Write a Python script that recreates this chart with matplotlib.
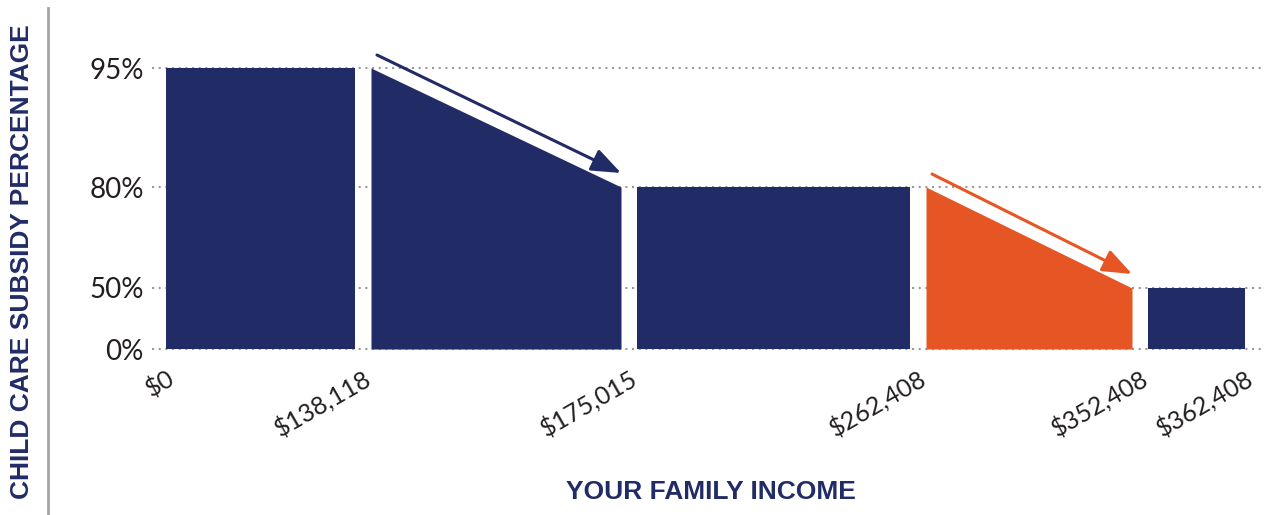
"""Child care subsidy by family income - stepped bar chart."""

import numpy as np
import matplotlib

matplotlib.use("Agg")
import matplotlib.pyplot as plt
from matplotlib.lines import Line2D
from matplotlib.transforms import ScaledTranslation

plt.rcParams["font.family"] = ["Lato", "DejaVu Sans"]

NAVY = "#212b65"
ORANGE = "#e65625"
GRID = "#9a9a9a"
TEXT = "#231f20"

# data
income_breaks = [0, 138118, 175015, 262408, 352408, 362408]
income_labels = ["$0", "$138,118", "$175,015", "$262,408", "$352,408", "$362,408"]
subsidy_start = [95, 95, 80, 80, 50]
subsidy_end = [95, 80, 80, 50, 50]
segment_colors = [NAVY, NAVY, NAVY, ORANGE, NAVY]
arrow_segments = [1, 3]
subsidy_ticks = [0, 50, 80, 95]
subsidy_tick_labels = ["0%", "50%", "80%", "95%"]

# layout: the original uses uneven spacing on both axes
break_px = [166, 363, 629, 918, 1140, 1245]
level_px = [0, 61, 162, 281]
HALF_GAP = 8

inc_ext = [-100000] + income_breaks + [462408]
xpx_ext = [66] + break_px + [1345]
lvl_ext = [-50] + subsidy_ticks + [150]
ypx_ext = [-61] + level_px + [700]


def x_fwd(v):
    return np.interp(v, inc_ext, xpx_ext)


def x_inv(p):
    return np.interp(p, xpx_ext, inc_ext)


def y_fwd(v):
    return np.interp(v, lvl_ext, ypx_ext)


def y_inv(p):
    return np.interp(p, ypx_ext, lvl_ext)


W, H = 1264, 515
fig = plt.figure(figsize=(W / 100, H / 100), dpi=100)
ax_left, ax_right, ax_top, ax_bottom = 152, 1265, 30, 352
ax = fig.add_axes([ax_left / W, 1 - ax_bottom / H, (ax_right - ax_left) / W, (ax_bottom - ax_top) / H])
ax.set_xscale("function", functions=(x_fwd, x_inv))
ax.set_yscale("function", functions=(y_fwd, y_inv))
ax.set_xlim(x_inv(ax_left), x_inv(ax_right))
ax.set_ylim(y_inv(-3), y_inv(ax_bottom - ax_top - 3))

n = len(subsidy_start)
seg_x = []
for i in range(n):
    left = break_px[i] + (HALF_GAP if i > 0 else 0)
    right = break_px[i + 1] - (HALF_GAP if i < n - 1 else 0)
    x0, x1 = x_inv(left), x_inv(right)
    seg_x.append((x0, x1))
    ax.fill_between([x0, x1], [subsidy_start[i], subsidy_end[i]], 0,
                    color=segment_colors[i], linewidth=0, zorder=2)

# arrows running parallel to the sloped tops
for i in arrow_segments:
    x0, x1 = seg_x[i]
    up = ScaledTranslation(0, 14 / 100, fig.dpi_scale_trans)
    start = ax.transData + ScaledTranslation(6 / 100, 13 / 100, fig.dpi_scale_trans)
    ax.annotate("", xy=(x1, subsidy_end[i]), xycoords=ax.transData + up,
                xytext=(x0, subsidy_start[i]), textcoords=start,
                arrowprops=dict(arrowstyle="-|>,head_length=0.9,head_width=0.35",
                                color=segment_colors[i], lw=2.2, mutation_scale=20,
                                shrinkA=0, shrinkB=0),
                annotation_clip=False)

ax.set_yticks(subsidy_ticks, subsidy_tick_labels)
ax.set_xticks(income_breaks, income_labels, rotation=30, ha="right", rotation_mode="anchor")
ax.minorticks_off()
ax.tick_params(axis="y", length=0, pad=6, labelsize=20, labelcolor=TEXT)
ax.tick_params(axis="x", length=0, pad=10, labelsize=18, labelcolor=TEXT)
for lbl in ax.get_yticklabels():
    lbl.set_verticalalignment("center_baseline")
ax.yaxis.grid(True, linestyle=(0, (1, 2.2)), color=GRID, linewidth=1.5)
ax.set_axisbelow(True)
for s in ax.spines.values():
    s.set_visible(False)

fig.text(22 / W, 1 - 262 / H, "CHILD CARE SUBSIDY PERCENTAGE", rotation=90,
         ha="center", va="center", fontsize=19, fontweight="bold", color=NAVY,
         family=["Liberation Sans", "DejaVu Sans"])
fig.text(711 / W, 1 - 492 / H, "YOUR FAMILY INCOME", ha="center", va="center",
         fontsize=19, fontweight="bold", color=NAVY, family=["Liberation Sans", "DejaVu Sans"])
fig.add_artist(Line2D([48 / W, 48 / W], [0, 1 - 8 / H], transform=fig.transFigure,
                      color="#a5a5a5", linewidth=2))

fig.savefig("out.png", dpi=100)
